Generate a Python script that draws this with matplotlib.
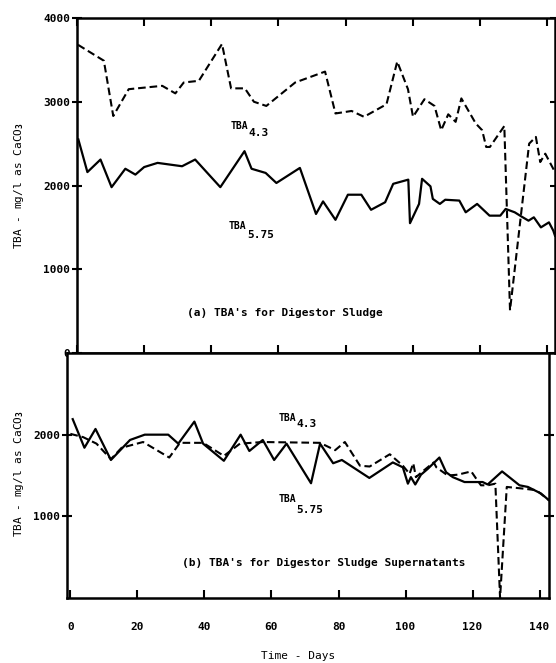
import numpy as np
import matplotlib
matplotlib.use("Agg")
import matplotlib.pyplot as plt

# ---- data (days, mg/l as CaCO3) ----
# (a) digestor sludge
sludge_days_43 = [0.3, 8.0, 10.8, 15.4, 22.9, 25.4, 29.3, 31.8, 36.3, 43.2, 45.9, 50.0, 52.7,
                  56.4, 65.0, 73.9, 77.0, 81.8, 85.5, 92.2, 95.4, 98.6, 100.1, 103.5, 106.5,
                  108.5, 110.6, 112.8, 114.5, 118.8, 120.7, 121.9, 123.0, 127.3, 129.0, 134.7,
                  136.7, 138.0, 139.5, 142.4]
sludge_tba_43 = [3680, 3490, 2830, 3150, 3180, 3190, 3100, 3230, 3250, 3690, 3160, 3160, 3000,
                 2950, 3230, 3360, 2860, 2890, 2820, 2970, 3480, 3150, 2820, 3030, 2950,
                 2660, 2850, 2760, 3040, 2740, 2660, 2460, 2460, 2710, 510, 2500,
                 2580, 2280, 2380, 2160]

sludge_days_575 = [0.4, 3.1, 7.0, 10.3, 14.4, 17.4, 20.0, 24.0, 31.3, 35.2, 42.7, 49.9, 52.0,
                   56.2, 59.4, 66.4, 71.2, 73.3, 77.0, 80.7, 84.7, 87.6, 91.8, 94.2, 98.7,
                   99.2, 101.9, 102.8, 105.3, 106.0, 108.1, 109.7, 113.9, 115.8, 119.2, 122.9,
                   126.1, 127.7, 130.4, 132.4, 134.5, 136.1, 138.2, 140.6, 141.9, 142.4]
sludge_tba_575 = [2550, 2160, 2310, 1980, 2200, 2130, 2220, 2270, 2230, 2310, 1980, 2410, 2200,
                  2150, 2030, 2210, 1660, 1810, 1590, 1890, 1890, 1710, 1800, 2020, 2070,
                  1550, 1780, 2080, 1990, 1840, 1780, 1830, 1820, 1680, 1780, 1640,
                  1640, 1720, 1680, 1630, 1580, 1620, 1500, 1560, 1460, 1400]

# (b) digestor sludge supernatants
super_days_43 = [0.0, 3.8, 7.8, 12.1, 15.3, 21.7, 29.5, 32.7, 39.6, 45.8, 50.6, 57.4, 74.5,
                 79.0, 81.9, 86.4, 89.3, 95.3, 99.2, 101.2, 102.3, 103.1, 105.4, 108.4, 109.2,
                 112.6, 115.6, 119.6, 121.1, 122.5, 124.5, 126.8, 128.2, 130.2, 135.0, 139.0, 142.7]
super_tba_43 = [2010, 1970, 1890, 1700, 1840, 1910, 1720, 1900, 1900, 1740, 1890, 1910, 1900,
                1810, 1910, 1620, 1610, 1760, 1620, 1520, 1650, 1480, 1560, 1660, 1600,
                1500, 1510, 1550, 1460, 1380, 1380, 1400, 0, 1360, 1340, 1320, 1200]

super_days_575 = [0.7, 4.2, 7.5, 12.1, 17.8, 22.2, 29.2, 32.2, 37.0, 39.6, 45.8, 50.8, 53.4,
                  57.4, 60.8, 64.5, 71.8, 74.5, 78.4, 81.0, 89.2, 96.2, 99.2, 100.7, 101.6,
                  102.9, 104.6, 106.6, 108.6, 110.1, 112.1, 114.1, 117.6, 121.1, 123.0, 124.5,
                  128.8, 134.0, 136.5, 140.4, 142.7]
super_tba_575 = [2190, 1840, 2070, 1690, 1935, 2000, 2000, 1890, 2160, 1890, 1680, 2000, 1800,
                 1935, 1690, 1890, 1405, 1890, 1650, 1690, 1470, 1660, 1600, 1400, 1480,
                 1390, 1510, 1580, 1660, 1720, 1540, 1480, 1420, 1420, 1420, 1390,
                 1550, 1380, 1360, 1280, 1200]

day_ticks = [0, 20, 40, 60, 80, 100, 120, 140]

plt.rcParams['font.family'] = 'DejaVu Sans Mono'
plt.rcParams['font.weight'] = 'bold'
plt.rcParams['font.size'] = 8
plt.rcParams['mathtext.fontset'] = 'custom'
plt.rcParams['mathtext.rm'] = 'DejaVu Sans Mono:bold'
plt.rcParams['mathtext.default'] = 'rm'
plt.rcParams['lines.scale_dashes'] = False

W, H = 556, 663
fig = plt.figure(figsize=(W / 100, H / 100), dpi=100)

def px_axes(left, top, right, bottom):
    return fig.add_axes([left / W, 1 - bottom / H, (right - left) / W, (bottom - top) / H])

ax_a = px_axes(77, 18, 555, 353)
ax_b = px_axes(67, 353, 549, 598)

ylab = "TBA - mg/l as CaCO$_3$"
dash = (0, (5.5, 2.8))

def tba_label(ax, x, y, sub, dy=-5):
    # "TBA" with a full size, lowered suffix as on the typed original
    ax.text(x, y, "TBA", fontsize=7, ha='left', va='baseline')
    ax.annotate(sub, (x, y), xytext=(13, dy), textcoords='offset points',
                fontsize=8, ha='left', va='baseline')

for ax in (ax_a, ax_b):
    for s in ax.spines.values():
        s.set_linewidth(1.8)
    ax.tick_params(which='both', direction='in', width=1.5, length=6,
                   top=True, right=True, labelsize=8)
    ax.tick_params(axis='y', direction='inout', length=7, pad=1.5)
    ax.tick_params(axis='y', which='both', right=True)

# (a) sludge
ax_a.plot(sludge_days_43, sludge_tba_43, color='black', lw=1.5, linestyle=dash)
ax_a.plot(sludge_days_575, sludge_tba_575, color='black', lw=1.6)
ax_a.set_xlim(0, 142.4)
ax_a.set_ylim(0, 4000)
ax_a.set_yticks([0, 1000, 2000, 3000, 4000])
ax_a.set_xticks(day_ticks)
ax_a.tick_params(axis='x', labelbottom=False)
ax_a.set_ylabel(ylab, fontsize=8)
ax_a.yaxis.set_label_coords(-0.106, 0.5)
tba_label(ax_a, 45.8, 2675, "4.3", dy=-5)
tba_label(ax_a, 45.3, 1475, "5.75", dy=-6)
ax_a.text(62, 476, "(a) TBA's for Digestor Sludge", ha='center', va='center', fontsize=8)

# (b) supernatants
ax_b.plot(super_days_43, super_tba_43, color='black', lw=1.5, linestyle=dash)
ax_b.plot(super_days_575, super_tba_575, color='black', lw=1.6)
ax_b.set_xlim(-1.0, 142.8)
ax_b.set_ylim(0, 3000)
ax_b.set_yticks([1000, 2000])
ax_b.set_xticks(day_ticks)
ax_b.tick_params(axis='x', top=False, pad=17)
ax_b.set_ylabel(ylab, fontsize=8)
ax_b.yaxis.set_label_coords(-0.085, 0.51)
ax_b.set_xlabel("Time - Days", fontsize=8)
ax_b.xaxis.set_label_coords(0.479, -0.215)
tba_label(ax_b, 62.1, 2170, "4.3", dy=-4.5)
tba_label(ax_b, 62.1, 1175, "5.75", dy=-8)
ax_b.text(75.7, 423, "(b) TBA's for Digestor Sludge Supernatants", ha='center', va='center',
          fontsize=8)

fig.savefig("out.png", dpi=100)
